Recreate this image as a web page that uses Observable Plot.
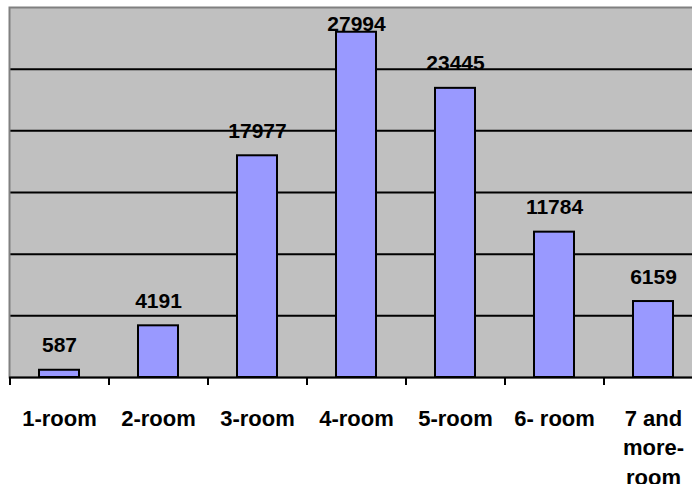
<!DOCTYPE html>
<html>
<head>
<meta charset="utf-8">
<script src="https://cdn.jsdelivr.net/npm/d3@7"></script>
<script src="https://cdn.jsdelivr.net/npm/@observablehq/plot@0.6"></script>
<style>
  html, body { margin: 0; padding: 0; background: #fff; overflow: hidden; }
  #wrap { width: 692px; height: 484px; overflow: hidden; }
  #wrap svg { max-width: none !important; }
</style>
</head>
<body>
<div id="wrap"></div>
<script>
const categories = ["1-room", "2-room", "3-room", "4-room", "5-room", "6- room", "7 and more-room"];
const counts = [587, 4191, 17977, 27994, 23445, 11784, 6159];
const tickLabels = ["1-room", "2-room", "3-room", "4-room", "5-room", "6- room", "7 and\nmore-\nroom"];
const gridValues = [5000, 10000, 15000, 20000, 25000];
const yMax = 30000;
const labelCeiling = 26600; // value labels are kept inside the plot area

const data = categories.map((c, i) => ({cat: c, count: counts[i], tick: tickLabels[i]}));
const font = "'Liberation Sans', Arial, sans-serif";

const chart = Plot.plot({
  width: 702,
  height: 484,
  marginLeft: 9,
  marginRight: 0,
  marginTop: 7,
  marginBottom: 107,
  style: {background: "white", fontFamily: font, maxWidth: "none"},
  x: {domain: categories, paddingInner: 0.6, paddingOuter: 0.3, axis: null},
  y: {domain: [0, yMax], axis: null},
  marks: [
    Plot.frame({fill: "#c0c0c0"}),
    Plot.ruleY(gridValues, {stroke: "black", strokeWidth: 2}),
    Plot.frame({stroke: "#808080", strokeWidth: 2}),
    Plot.barY(data, {x: "cat", y: "count", fill: "#9999ff", stroke: "black", strokeWidth: 2}),
    Plot.ruleY([0], {stroke: "black", strokeWidth: 2}),
    Plot.ruleX(categories, {x: d => d, dx: -49.5, y1: 0, y2: 0, insetBottom: -8, stroke: "black", strokeWidth: 2}),
    Plot.text(data, {x: "cat", y: d => Math.min(d.count, labelCeiling), text: d => String(d.count),
      dy: -18, lineAnchor: "bottom", fontSize: 21, fontWeight: "bold", fill: "black", fontFamily: font}),
    Plot.text(data, {x: "cat", y: 0, text: "tick", dy: 27, lineAnchor: "top", lineHeight: 1.35,
      fontSize: 22, fontWeight: "bold", fill: "black", fontFamily: font})
  ]
});
document.getElementById("wrap").appendChild(chart);
</script>
</body>
</html>
